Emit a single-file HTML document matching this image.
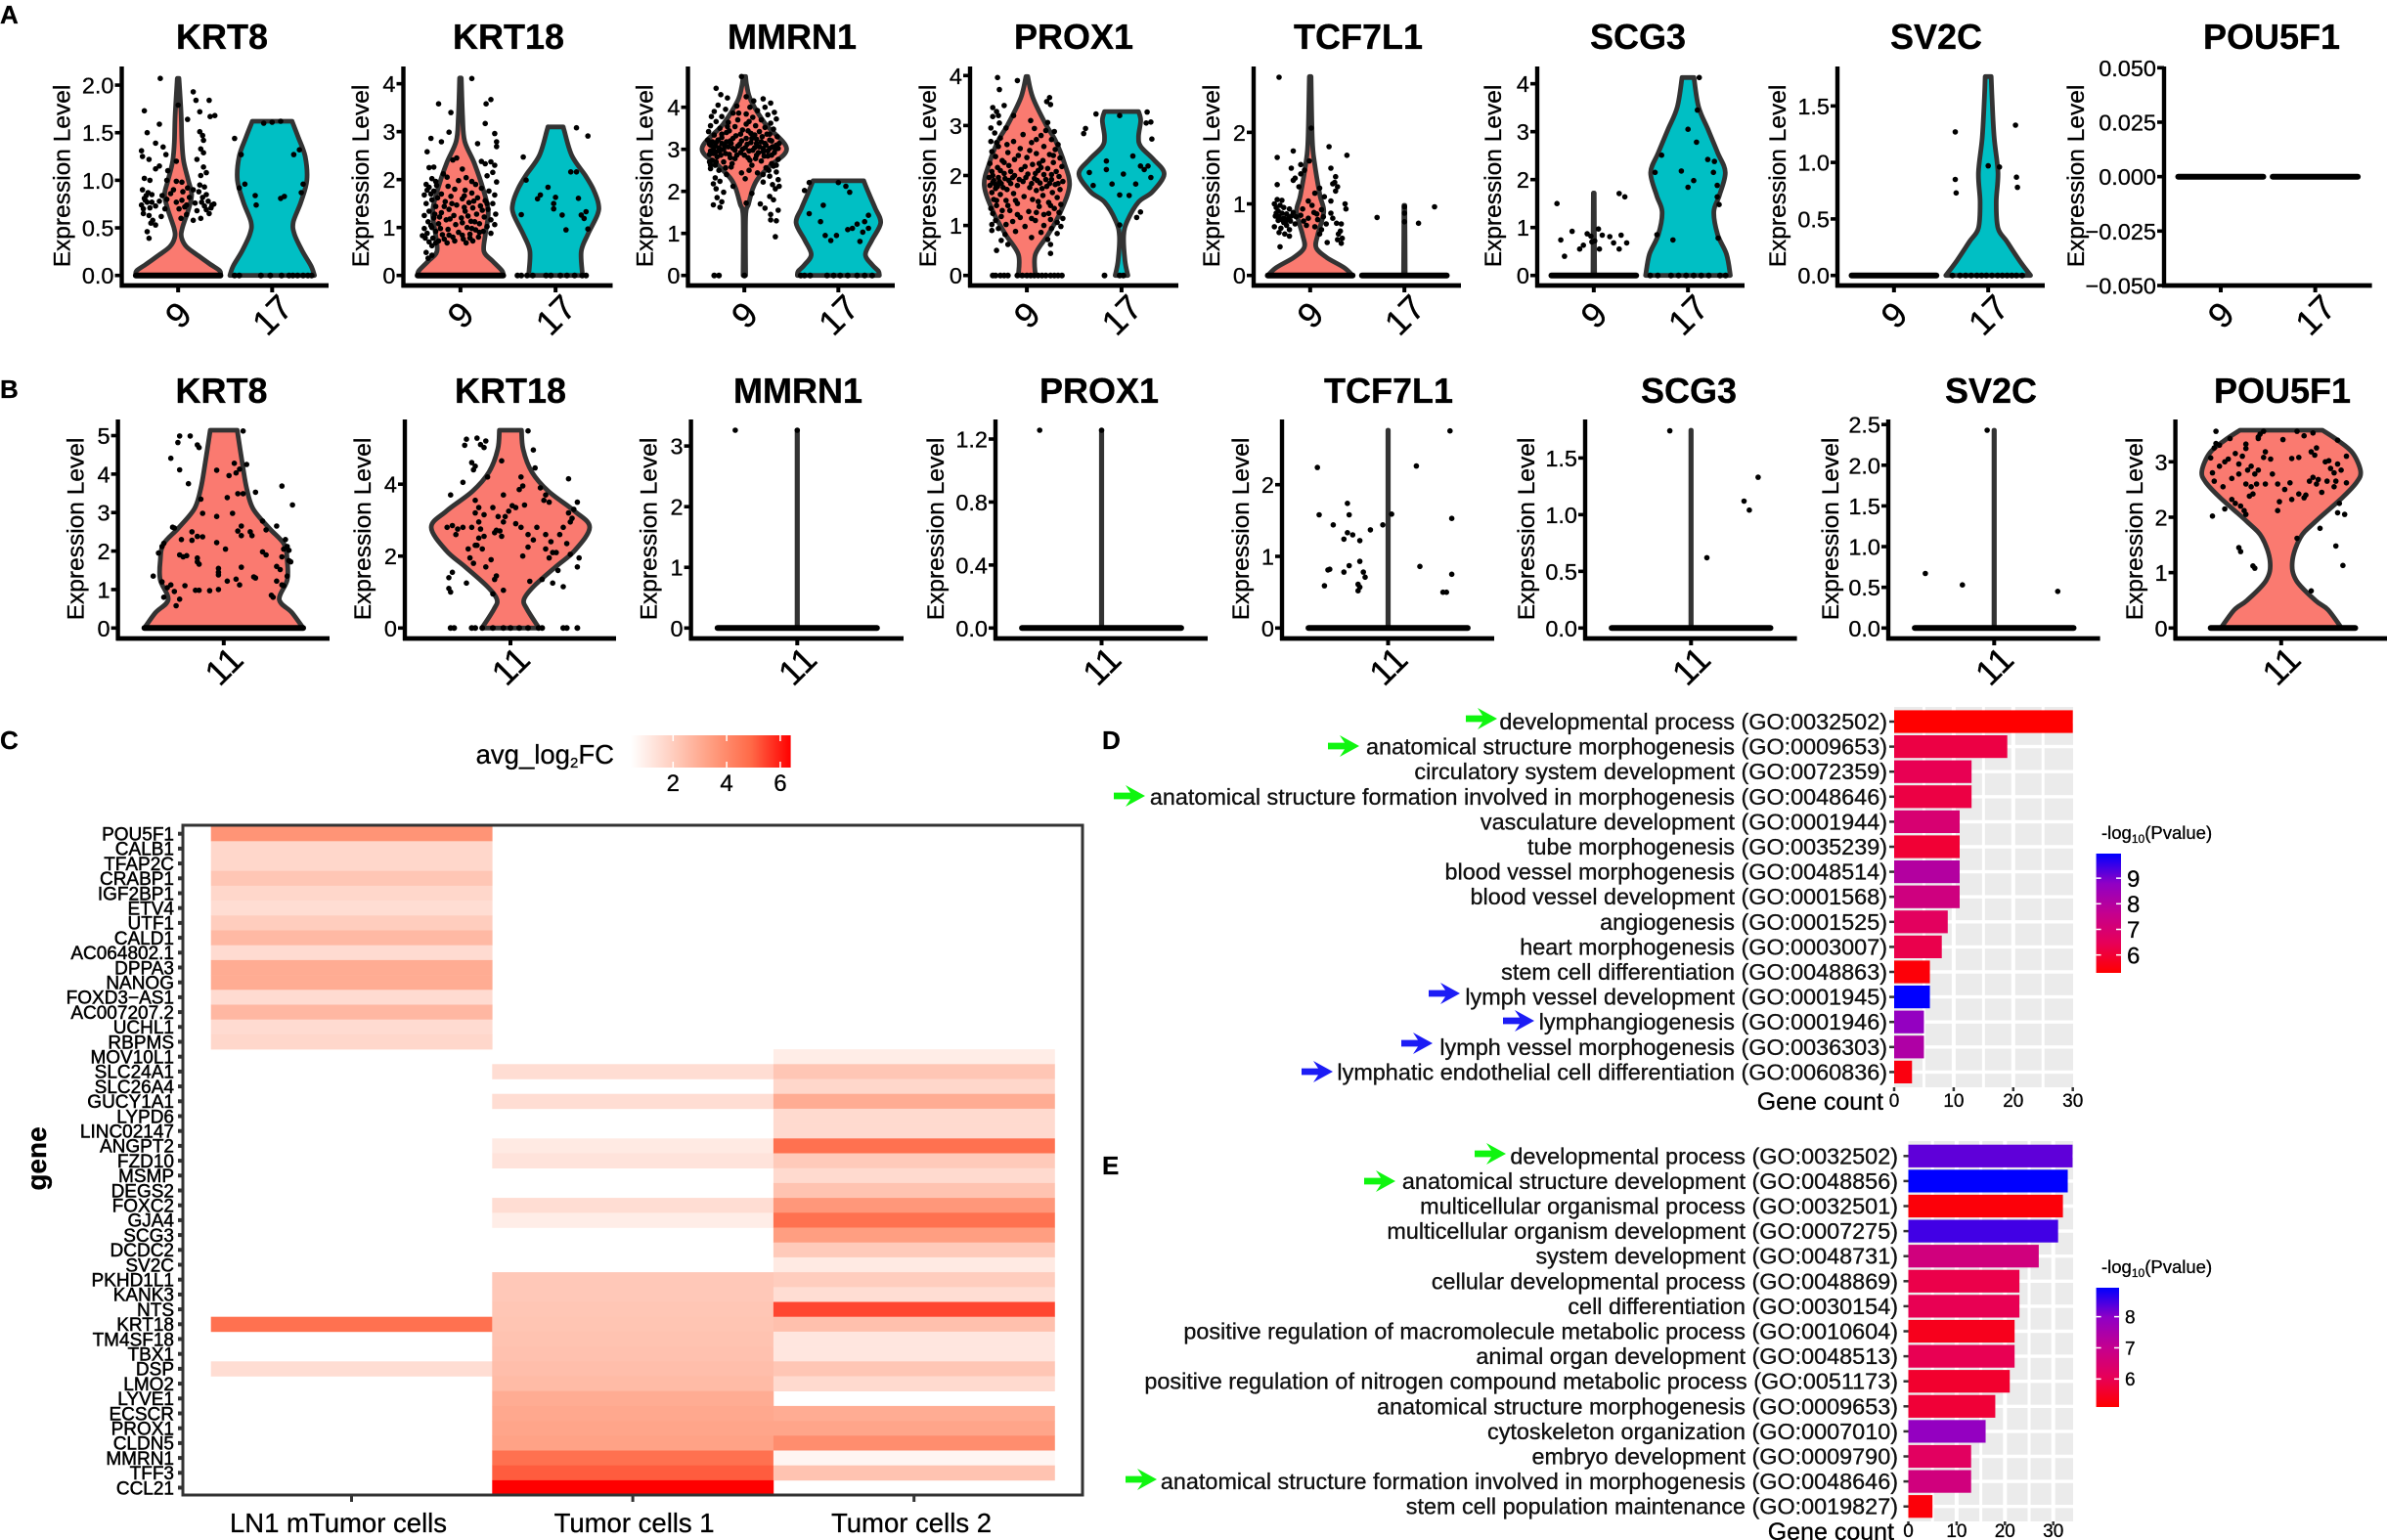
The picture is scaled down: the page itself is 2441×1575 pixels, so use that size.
<!DOCTYPE html>
<html lang="en">
<head>
<meta charset="utf-8">
<title>Violin, heatmap and GO enrichment figure</title>
<style>
html,body{margin:0;padding:0;background:#fff;}
svg{display:block;font-family:"Liberation Sans",Arial,sans-serif;}
svg text{stroke:#000;stroke-width:.3px;}
</style>
</head>
<body>
<svg id="figure" xmlns="http://www.w3.org/2000/svg" width="2441" height="1575" viewBox="0 0 2441 1575">
  <rect x="0" y="0" width="2441" height="1575" fill="#fff"/>
  <defs>
    <linearGradient id="fcGrad" x1="0" x2="1" y1="0" y2="0">
      <stop offset="0" stop-color="#ffffff"/><stop offset=".25" stop-color="#ffd0c2"/><stop offset=".5" stop-color="#ff9e81"/><stop offset=".75" stop-color="#ff6a48"/><stop offset="1" stop-color="#ff0000"/>
    </linearGradient>
    <linearGradient id="pGrad" x1="0" x2="0" y1="1" y2="0">
      <stop offset="0" stop-color="#ff0000"/><stop offset=".25" stop-color="#e70058"/><stop offset=".5" stop-color="#c4008f"/><stop offset=".75" stop-color="#9000c5"/><stop offset="1" stop-color="#0000ff"/>
    </linearGradient>
  </defs>
  <text x="0" y="24" font-size="26" font-weight="bold">A</text>
  <text x="0" y="407" font-size="26" font-weight="bold">B</text>
  <text x="0" y="766" font-size="26" font-weight="bold">C</text>
  <text x="1127" y="766" font-size="26" font-weight="bold">D</text>
  <text x="1127" y="1201" font-size="26" font-weight="bold">E</text>
  <g id="panelA"></g>
  <g id="panelB"></g>
  <g id="panelC"></g>
  <g id="panelD"></g>
  <g id="panelE"></g>
</svg>
<script>
/* ---------- shared categories ---------- */
const catsA = ['9','17'];
const catsB = ['11'];
const denseZeros = [-.45,-.42,-.39,-.36,-.33,-.3,-.27,-.24,-.21,-.18,-.15,-.12,-.09,-.06,-.03,0,.03,.06,.09,.12,.15,.18,.21,.24,.27,.3,.33,.36,.39,.42,.45];

/* ---------- panel A: KRT8 ---------- */
const A_KRT8_ticks = [0,.5,1,1.5,2];
const A_KRT8_labels = ['0.0','0.5','1.0','1.5','2.0'];
const A_KRT8_domain = [0,2.09];
const A_KRT8_v9 = [[0,1],[.05,.98],[.12,.75],[.2,.5],[.3,.2],[.4,.08],[.5,.1],[.7,.25],[.85,.32],[1,.24],[1.2,.13],[1.4,.09],[1.7,.07],[2.07,.02]];
const A_KRT8_v17 = [[0,1],[.1,.92],[.25,.72],[.43,.53],[.56,.5],[.77,.68],[1,.82],[1.25,.78],[1.45,.62],[1.62,.47]];
const A_KRT8_p9 = [[-.19,2.07],[.16,1.93],[.19,1.84],[.33,1.84],[-.36,1.73],[0,1.79],[.23,1.72],[.34,1.67],[.39,1.68],[.1,1.64],[-.2,1.59],[.23,1.51],[-.33,1.5],[.26,1.47],[-.24,1.39],[.27,1.42],[-.39,1.31],[-.16,1.35],[.24,1.33],[.27,1.29],[-.38,1.25],[-.13,1.27],[-.31,1.22],[.2,1.22],[-.02,1.2],[-.2,1.15],[-.24,1.12],[.27,1.14],[.3,1.08],[-.11,1.1],[-.36,1.02],[.24,1.05],[-.3,1],[.04,.98],[-.02,.99],[-.12,1],[.23,.95],[.28,.93],[.1,.92],[-.38,.9],[-.05,.9],[.05,.88],[-.32,.87],[.22,.88],[.3,.85],[-.28,.85],[-.17,.84],[.12,.82],[.26,.82],[-.36,.81],[-.12,.8],[.04,.79],[.32,.78],[-.33,.77],[-.28,.77],[-.02,.77],[.18,.76],[.38,.75],[-.39,.74],[.09,.74],[-.24,.73],[.28,.73],[-.3,.71],[.35,.71],[.01,.7],[-.14,.7],[.2,.68],[-.37,.65],[.33,.65],[.09,.64],[-.31,.63],[-.18,.62],[.03,.6],[.24,.6],[-.27,.58],[.16,.58],[-.24,.53],[-.29,.55],[-.33,.46],[-.31,.39],[-.35,.79],[-.34,.84],[-.37,.7],[.3,.69],[.25,.77],[-.08,.86],[.07,.72],[-.2,.78],[.16,.9],[.36,.74]];
const A_KRT8_v17p = [];
const A_KRT8_p17 = [[-.4,1.44],[-.09,1.6],[0,1.61],[.09,1.62],[-.33,1.27],[.23,1.27],[.29,1.32],[-.29,.96],[-.35,.92],[.33,.96],[.31,.87],[-.17,.74],[-.18,.84],[.09,.81],[.13,.83]];
const A_KRT8_z17 = [-.4,-.35,-.12,-.02,.1,.18,.22,.27,.33,.38,.42];

/* ---------- panel A: KRT18 ---------- */
const A_KRT18_ticks = [0,1,2,3,4];
const A_KRT18_labels = ['0','1','2','3','4'];
const A_KRT18_domain = [0,4.15];
const A_KRT18_v9 = [[0,1],[.1,.97],[.3,.75],[.5,.55],[.85,.58],[1.33,.65],[1.8,.53],[2.35,.32],[2.8,.1],[3.3,.05],[4.12,.02]];
const A_KRT18_v17 = [[0,.63],[.5,.6],[.85,.75],[1.27,.98],[1.5,1],[1.8,.88],[2.08,.7],[2.5,.38],[3.03,.2],[3.1,.18]];
const A_KRT18_p9 = [[.12,4.11],[.32,3.67],[.27,3.58],[-.23,3.58],[-.1,3.4],[.26,3.17],[-.12,2.99],[.36,2.96],[-.31,2.86],[-.2,2.79],[.38,2.79],[.18,2.75],[.38,2.69],[-.35,2.58],[-.04,2.45],[-.08,2.41],[.22,2.38],[.32,2.37],[.26,2.33],[.36,2.3],[-.33,2.25],[-.28,2.26],[.02,2.22],[.34,2.15],[-.18,2.12],[.28,2.08],[-.3,2.02],[.06,2.04],[-.02,1.98],[.38,1.95],[-.36,1.9],[-.25,1.88],[.16,1.9],[-.13,1.86],[-.33,1.84],[.22,1.82],[-.06,1.8],[.05,1.78],[-.28,1.76],[.3,1.76],[.12,1.72],[-.2,1.7],[-.38,1.68],[.36,1.68],[-.1,1.65],[.18,1.62],[.02,1.6],[-.3,1.58],[.26,1.56],[-.16,1.54],[.09,1.52],[-.36,1.5],[.34,1.5],[-.04,1.47],[.21,1.45],[-.26,1.44],[.13,1.41],[-.12,1.38],[.29,1.38],[-.33,1.34],[.05,1.34],[-.2,1.31],[.37,1.28],[.17,1.28],[-.38,1.25],[-.07,1.25],[.25,1.22],[-.28,1.2],[.01,1.2],[.32,1.16],[-.15,1.16],[.11,1.13],[-.34,1.12],[-.23,1.08],[.2,1.08],[-.05,1.06],[.36,1.06],[.28,1.02],[-.3,1],[.07,1],[-.38,.98],[-.13,.96],[.16,.95],[.24,.92],[-.26,.92],[-.02,.9],[-.35,.88],[.32,.88],[.1,.86],[-.19,.85],[-.4,.83],[-.08,.8],[.19,.8],[-.29,.78],[.03,.76],[-.23,.72],[.13,.72],[-.33,.7],[-.14,.68],[.06,.68],[-.3,.62],[-.36,.48],[-.3,.42],[-.34,.36],[-.31,1.7],[-.24,1.62],[-.17,1.44],[-.09,1.5],[.14,1.55],[.04,1.42],[.23,1.36],[-.27,1.28],[-.11,1.18],[.08,1.24],[.15,1.12],[-.31,1.04],[-.21,.98],[.02,1.1],[.12,.98],[.2,.9],[-.17,.76],[-.06,.72],[.1,.78],[-.37,.78],[-.26,.68],[-.12,.84],[.02,.84],[-.22,1.22],[.28,1.5],[-.35,1.78],[-.26,1.96],[.12,1.96],[-.14,2.05],[.04,1.66]];
const A_KRT18_p17 = [[.22,3.08],[.34,2.91],[-.34,2.47],[.16,2.16],[.22,2.16],[-.31,1.99],[-.08,1.84],[-.16,1.68],[0,1.63],[-.19,1.6],[.24,1.61],[-.02,1.5],[-.36,1.27],[.32,1.33],[.27,1.26],[-.02,1.39],[.07,1.26],[.3,1.19],[.11,.95],[.34,.97]];
const A_KRT18_z17 = [-.4,-.36,-.3,-.24,-.1,-.05,.05,.12,.2,.28,.32];

/* ---------- panel A: MMRN1 ---------- */
const A_MMRN1_ticks = [0,1,2,3,4];
const A_MMRN1_labels = ['0','1','2','3','4'];
const A_MMRN1_domain = [0,4.73];
const A_MMRN1_v9 = [[0,.03],[1.4,.03],[1.7,.1],[2.06,.2],[2.3,.32],[2.6,.6],[3.02,1],[3.6,.5],[4.15,.16],[4.5,.06],[4.73,.03]];
const A_MMRN1_v17 = [[0,.97],[.1,.95],[.25,.8],[.5,.64],[.85,.8],[1.25,1],[1.6,.87],[1.95,.72],[2.25,.6]];
const A_MMRN1_p9 = [[-.03,4.73],[-.3,4.45],[-.25,4.3],[.02,4.25],[-.18,4.22],[.2,4.2],[.1,4.15],[.28,4.1],[-.28,4.05],[-.08,4.03],[.06,4],[.22,4],[-.2,3.95],[-.32,3.9],[.14,3.92],[.32,3.88],[-.12,3.86],[.02,3.84],[.25,3.82],[-.35,3.78],[-.24,3.78],[.09,3.76],[.34,3.72],[-.07,3.7],[.18,3.7],[-.3,3.66],[-.17,3.64],[.28,3.62],[.02,3.6],[-.36,3.56],[.12,3.56],[-.1,3.54],[.22,3.52],[-.26,3.5],[.31,3.48],[-.02,3.46],[-.38,3.42],[.16,3.42],[-.19,3.4],[.07,3.38],[.27,3.36],[-.32,3.34],[-.09,3.32],[.35,3.3],[.19,3.3],[-.24,3.28],[.02,3.26],[-.39,3.22],[.13,3.24],[-.15,3.2],[.29,3.2],[-.3,3.16],[.07,3.16],[.22,3.14],[-.05,3.12],[-.36,3.1],[.34,3.1],[-.21,3.08],[.16,3.06],[.01,3.04],[-.12,3.02],[.27,3.02],[-.33,3],[.09,2.98],[-.26,2.96],[.2,2.94],[-.04,2.92],[.32,2.92],[-.37,2.88],[-.16,2.88],[.13,2.86],[.25,2.84],[-.29,2.82],[.04,2.8],[-.1,2.78],[.36,2.76],[-.34,2.74],[.18,2.72],[-.22,2.7],[.29,2.66],[-.31,2.62],[.08,2.62],[-.14,2.58],[.23,2.56],[-.36,2.54],[-.27,2.5],[.34,2.46],[.14,2.44],[-.19,2.4],[.27,2.36],[-.31,2.32],[.01,2.3],[.36,2.28],[-.26,2.24],[.2,2.22],[-.33,2.18],[.3,2.16],[-.12,2.12],[.37,2.12],[-.3,2.06],[.33,2.06],[-.22,1.98],[.08,1.95],[.27,1.88],[-.29,1.85],[.31,1.8],[-.24,1.75],[.02,1.72],[-.33,1.68],[.17,1.7],[-.26,1.62],[.36,1.55],[.28,1.45],[.22,1.6],[.34,1.3],[.28,1.32],[.33,.92],
[-.37,3.12],[-.34,3.18],[-.31,3.08],[-.28,3.22],[-.27,3.04],[-.24,3.14],[-.22,3],[-.19,3.18],[-.17,3.06],[-.14,3.14],[-.12,3.26],[-.1,2.98],[-.07,3.08],[-.03,3.2],[-.02,3],[.03,3.12],[.05,2.96],[.08,3.26],[.11,3.04],[.13,3.14],[.15,2.92],[.18,3.18],[.2,3.02],[.23,3.1],[.25,2.96],[.27,3.22],[.3,3.06],[.33,3],[.36,3.02],[.37,3.14],[-.36,2.96],[-.33,2.9],[-.3,2.94],[-.25,2.86],[-.2,2.9],[-.15,2.8],[-.08,2.86],[0,2.86],[.06,2.74],[.12,2.78],[.21,2.84],[.29,2.86],[-.24,3.36],[-.16,3.44],[-.04,3.36],[.04,3.44],[.11,3.34],[.24,3.36],[-.37,2.7],[-.3,2.7],[-.36,2.62],[-.13,2.66],[.31,2.6],[.34,2.62],[-.2,2.56],[.05,2.5],[.26,2.5],[.2,2.4],[-.03,2.44],[-.18,3.54],[.05,3.66],[-.06,3.86]];
const A_MMRN1_p17 = [[-.31,2.21],[-.36,2.02],[0,2.21],[.08,2.12],[.12,1.98],[-.16,1.67],[-.31,1.47],[.32,1.43],[-.19,1.28],[.28,1.28],[.2,1.22],[.15,1.12],[.32,1.12],[.1,1.09],[.26,1.03],[-.14,.95],[-.02,.95],[-.08,.83],[.23,.81]];
const A_MMRN1_z9 = [-.32,-.27,0];
const A_MMRN1_z17 = [-.4,-.36,-.3,-.12,-.05,.02,.1,.2,.28,.36];

/* ---------- panel A: PROX1 ---------- */
const A_PROX1_ticks = [0,1,2,3,4];
const A_PROX1_labels = ['0','1','2','3','4'];
const A_PROX1_domain = [0,3.98];
const A_PROX1_v9 = [[0,.2],[.42,.2],[.82,.5],[1.27,.79],[1.8,1],[2.25,.88],[2.7,.67],[3.03,.44],[3.56,.14],[3.98,.02]];
const A_PROX1_v17 = [[0,.15],[.3,.08],[.8,.05],[1.1,.14],[1.47,.4],[1.67,.72],[2.03,1],[2.32,.75],[2.58,.45],[2.78,.4],[3.1,.45],[3.28,.4]];
const A_PROX1_p9 = [[-.31,3.96],[-.1,3.9],[-.29,3.72],[.24,3.56],[.21,3.48],[.25,3.42],[-.36,3.36],[-.32,3.28],[-.14,3.2],[-.36,3.18],[.04,3.1],[-.29,3.05],[.22,3.06],[-.38,2.95],[-.22,2.95],[.08,2.94],[.29,2.88],[-.34,2.85],[-.04,2.82],[.15,2.8],[-.28,2.75],[.26,2.72],[-.38,2.68],[-.14,2.68],[.05,2.66],[.33,2.62],[-.3,2.58],[.18,2.58],[-.07,2.54],[.3,2.52],[-.37,2.48],[-.2,2.46],[.1,2.44],[.24,2.42],[-.33,2.38],[0,2.36],[.35,2.35],[-.13,2.32],[-.26,2.3],[.17,2.3],[.28,2.26],[-.39,2.24],[.06,2.22],[-.19,2.2],[.37,2.18],[-.31,2.16],[.22,2.14],[-.06,2.12],[.12,2.1],[-.37,2.08],[.31,2.08],[-.24,2.04],[.01,2.03],[.18,2.02],[-.13,2],[.34,1.98],[-.4,1.96],[-.3,1.96],[.08,1.94],[.26,1.92],[-.19,1.9],[-.04,1.88],[.38,1.88],[-.36,1.86],[.14,1.85],[-.27,1.84],[.3,1.82],[-.39,1.8],[-.1,1.8],[.21,1.78],[.03,1.76],[-.33,1.74],[-.21,1.72],[.35,1.72],[.1,1.7],[-.37,1.66],[.27,1.66],[-.14,1.64],[-.28,1.62],[.17,1.6],[-.03,1.58],[.32,1.56],[-.35,1.52],[.06,1.52],[-.22,1.5],[.23,1.46],[-.1,1.44],[.36,1.42],[-.32,1.4],[.13,1.38],[-.38,1.34],[.29,1.34],[-.18,1.3],[.02,1.28],[.34,1.26],[-.36,1.24],[.18,1.22],[-.27,1.18],[-.07,1.16],[.38,1.14],[.25,1.12],[-.33,1.1],[.09,1.1],[-.15,1.08],[.32,1.06],[-.37,1.02],[.18,1],[-.02,.98],[.36,.98],[-.3,.94],[.26,.94],[-.37,.9],[-.12,.88],[.15,.86],[.32,.84],[-.23,.82],[.05,.76],[-.27,.7],[.22,.72],[-.2,.62],[.25,.62],[-.32,.5],[.25,.44],
[-.35,1.9],[-.33,1.82],[-.31,1.78],[-.29,1.88],[-.25,1.76],[-.23,1.94],[-.17,1.84],[-.15,1.96],[-.08,1.92],[-.01,1.96],[.05,1.84],[.11,1.9],[.16,1.74],[.2,1.92],[.24,1.84],[.33,1.84],[-.36,2],[-.28,2.1],[-.17,2.08],[-.02,2.18],[.09,2.04],[.15,2.16],[.26,2.02],[-.24,2.26],[-.09,2.4],[.03,2.5],[.13,2.24],[.28,2.4],[-.32,2.66],[-.21,2.62],[.1,2.72],[.2,2.9],[-.3,3.2],[-.24,3.4],[-.2,1.4],[-.32,1.5],[-.12,1.5],[.12,1.48],[.25,1.4],[-.26,1.3],[.1,1.26],[.23,1.24],[-.1,1.22],[.05,1.14],[-.22,1.02]];
const A_PROX1_z9 = [-.36,-.33,-.28,-.24,-.2,-.1,-.05,0,.04,.08,.12,.16,.2,.25,.29,.33,.37];
const A_PROX1_p17 = [[-.38,2.94],[-.4,2.84],[-.27,3.23],[-.02,3.2],[.27,3.27],[.31,3.07],[.26,3.05],[.32,2.73],[-.16,2.29],[.12,2.39],[.2,2.19],[.28,2.19],[.24,2.12],[-.34,2.06],[-.16,2.12],[.02,2.03],[.31,1.96],[-.3,1.8],[-.1,1.83],[.15,1.83],[-.02,1.61],[.08,1.6],[.2,1.27],[.16,1.16],[-.02,1.01]];
const A_PROX1_z17 = [-.18,-.02,.02];

/* ---------- panel A: TCF7L1 ---------- */
const A_TCF7L1_ticks = [0,1,2];
const A_TCF7L1_labels = ['0','1','2'];
const A_TCF7L1_domain = [0,2.78];
const A_TCF7L1_v9 = [[0,1],[.11,.8],[.25,.39],[.39,.14],[.57,.18],[.89,.32],[1.12,.23],[1.58,.1],[1.9,.05],[2.78,.02]];
const A_TCF7L1_v17 = [[0,.02],[.98,.01]];
const A_TCF7L1_p9 = [[-.33,2.77],[.01,2.06],[.2,1.8],[-.18,1.74],[.39,1.68],[-.35,1.65],[-.01,1.6],[-.1,1.55],[.22,1.5],[-.2,1.5],[-.06,1.47],[-.1,1.42],[.27,1.38],[.26,1.3],[-.16,1.36],[-.18,1.33],[.24,1.28],[.29,1.24],[-.35,1.27],[-.12,1.24],[.1,1.22],[.27,1.18],[.05,1.15],[.15,1.1],[-.35,1.06],[-.3,1.05],[.22,1.04],[-.02,1.04],[-.38,1],[-.32,.98],[.37,1],[.02,.98],[-.36,.95],[-.28,.95],[.38,.93],[-.22,.93],[-.08,.93],[.12,.92],[-.34,.9],[-.18,.88],[.04,.88],[-.3,.87],[.22,.87],[-.1,.84],[-.37,.83],[-.2,.83],[.14,.82],[-.28,.8],[.24,.8],[-.02,.8],[-.34,.77],[.08,.78],[-.21,.76],[-.28,.74],[.28,.73],[-.16,.72],[.17,.72],[-.25,.7],[.33,.72],[-.38,.68],[.05,.68],[-.31,.66],[.12,.64],[-.22,.64],[.32,.62],[-.33,.6],[-.27,.58],[.1,.58],[.3,.58],[-.22,.55],[.34,.52],[.29,.5],[.18,.46],[.33,.45],[-.32,.4],[-.36,.87],[-.33,.82],[-.3,.78],[-.25,.86],[-.23,.8],[-.26,.76],[-.15,.82],[-.07,.76],[.07,.86],[-.04,.7]];
const A_TCF7L1_p17 = [[.32,.96],[0,.96],[0,.87],[-.29,.81],[0,.75],[.15,.73]];

/* ---------- panel A: SCG3 ---------- */
const A_SCG3_ticks = [0,1,2,3,4];
const A_SCG3_labels = ['0','1','2','3','4'];
const A_SCG3_domain = [0,4.15];
const A_SCG3_v9 = [[0,.02],[1.72,.01]];
const A_SCG3_v17 = [[0,1],[.44,.91],[.85,.7],[1.33,.61],[1.67,.74],[2.15,.88],[2.56,.7],[3.05,.47],[3.52,.25],[4.13,.14]];
const A_SCG3_p9 = [[.27,1.71],[.33,1.64],[-.39,1.5],[-.23,.92],[.05,.97],[-.07,.87],[-.03,.82],[-.35,.74],[.09,.84],[.17,.81],[.29,.84],[.01,.72],[-.11,.63],[.21,.68],[.35,.68],[-.02,.7],[-.15,.55],[.06,.55],[.27,.55],[-.31,.4]];
const A_SCG3_p17 = [[.12,4.13],[.1,3.45],[0,3.05],[.09,2.78],[-.28,2.51],[.21,2.42],[.28,2.38],[-.35,2.15],[-.07,2.18],[.27,2.15],[.06,1.98],[0,1.84],[.31,1.88],[.31,1.64],[.33,1.48],[-.33,.85],[-.16,.74],[.32,.78]];
const A_SCG3_z17 = [-.4,-.32,-.18,-.1,-.02,.06,.14,.22,.34,.4];

/* ---------- panel A: SV2C ---------- */
const A_SV2C_ticks = [0,.5,1,1.5];
const A_SV2C_labels = ['0.0','0.5','1.0','1.5'];
const A_SV2C_domain = [0,1.76];
const A_SV2C_v9 = [];
const A_SV2C_v17 = [[0,1],[.13,.74],[.3,.44],[.42,.23],[.65,.19],[.91,.23],[1.22,.14],[1.57,.09],[1.76,.07]];
const A_SV2C_p17 = [[.29,1.33],[-.35,1.27],[0,.97],[.12,.96],[.3,.87],[-.35,.85],[.31,.78],[-.34,.73]];
const A_SV2C_z17 = [-.38,-.3,-.24,-.18,-.12,-.07,-.02,.04,.1,.15,.2,.25,.3,.36];

/* ---------- panel A: POU5F1 ---------- */
const A_POU5F1_ticks = [-.05,-.025,0,.025,.05];
const A_POU5F1_labels = ['\u22120.050','\u22120.025','0.000','0.025','0.050'];
const A_POU5F1_domain = [-.05,.05];

/* ---------- panel B ---------- */
const B_KRT8_ticks = [0,1,2,3,4,5];
const B_KRT8_labels = ['0','1','2','3','4','5'];
const B_KRT8_domain = [0,5.14];
const B_KRT8_v = [[0,1],[.4,.86],[.74,.7],[1.25,.8],[1.75,.8],[2.18,.76],[2.6,.57],[3.1,.37],[3.62,.29],[4.2,.24],[5.14,.17]];
const B_KRT8_p = [[.11,5.12],[-.25,4.99],[-.19,4.99],[-.26,4.82],[-.15,4.76],[-.14,4.69],[-.3,4.41],[.06,4.28],[.13,4.25],[-.25,4.11],[-.04,4.1],[.09,4.13],[.07,4.03],[.03,3.96],[-.2,3.75],[.33,3.69],[.18,3.53],[.08,3.49],[.11,3.49],[.02,3.39],[-.13,3.35],[.39,3.2],[-.12,2.98],[.05,2.98],[-.04,2.9],[.22,2.78],[-.28,2.6],[.3,2.65],[-.29,2.62],[.1,2.65],[.24,2.55],[.08,2.52],[.15,2.5],[-.18,2.5],[-.15,2.38],[-.12,2.37],[.1,2.4],[.16,2.4],[-.24,2.3],[.35,2.3],[-.18,2.28],[-.04,2.22],[-.34,2.2],[-.35,2.12],[.36,2.12],[.01,2.05],[.34,2.05],[-.37,1.95],[.37,2.02],[.22,1.98],[.24,1.9],[-.25,1.9],[-.23,1.85],[-.21,1.88],[-.15,1.82],[.33,1.85],[.37,1.75],[.38,1.72],[-.15,1.72],[-.14,1.66],[.3,1.6],[.1,1.58],[.32,1.52],[-.03,1.55],[-.03,1.45],[-.03,1.38],[.36,1.35],[-.4,1.35],[-.35,1.2],[.17,1.33],[.18,1.3],[.07,1.27],[.02,1.22],[.3,1.22],[.33,1.12],[.34,1.1],[-.32,1.05],[-.3,1.12],[-.28,.95],[-.22,1.1],[-.16,.98],[-.14,.98],[-.08,.97],[-.03,1.0],[.09,1.12],[.27,.85],[.28,.8],[-.25,.75],[-.34,.8],[-.27,.58]];
const B_KRT18_ticks = [0,2,4];
const B_KRT18_labels = ['0','2','4'];
const B_KRT18_domain = [0,5.5];
const B_KRT18_v = [[0,.36],[.52,.21],[.79,.17],[1.15,.29],[1.7,.57],[2.15,.81],[2.8,1],[3.25,.81],[3.8,.48],[4.34,.27],[4.97,.16],[5.5,.14]];
const B_KRT18_p = [[.1,5.48],[-.25,5.25],[-.19,5.28],[-.14,5.2],[-.26,5.08],[-.17,5.1],[-.15,5.02],[.13,4.95],[-.22,4.6],[-.21,4.4],[-.2,4.5],[-.05,4.65],[.14,4.45],[-.13,4.2],[.06,4.2],[.33,4.15],[-.27,4.05],[.07,3.95],[.17,3.9],[.05,3.85],[-.04,3.7],[.2,3.7],[.19,3.55],[-.34,3.7],[.22,3.5],[.38,3.5],[-.2,3.55],[-.18,3.35],[-.1,3.35],[.01,3.4],[.03,3.35],[.08,3.42],[-.2,3.2],[-.15,3.15],[-.07,3.1],[-.01,3.25],[-.03,3.1],[.33,3.2],[.36,3.3],[.35,3.05],[.34,2.95],[-.18,2.95],[-.17,2.75],[-.04,2.95],[-.08,2.72],[-.18,2.5],[-.22,2.8],[-.27,2.8],[-.3,2.75],[-.33,2.85],[-.36,2.8],[-.31,2.6],[.03,2.9],[.06,2.8],[.1,2.6],[.13,2.45],[.15,2.8],[.2,2.6],[.28,2.6],[.3,2.8],[-.15,2.55],[-.09,2.65],[-.06,2.7],[-.05,2.55],[-.2,2.3],[-.16,2.2],[-.19,2.3],[-.24,2.2],[.2,2.2],[.23,2.4],[.26,2.1],[.32,2.35],[.1,2.25],[.07,2.0],[.34,2.05],[.39,1.95],[.38,1.7],[.22,1.95],[.24,2.1],[-.11,1.9],[-.23,1.95],[-.21,1.8],[-.14,1.7],[.27,1.6],[-.08,1.45],[-.09,1.35],[-.35,1.4],[-.33,1.55],[-.25,1.25],[-.35,1.1],[.11,1.3],[.18,1.35],[.24,1.25],[.3,1.15],[-.1,.95],[-.04,1.05],[-.34,1.0]];
const B_KRT18_z = [-.34,-.32,-.22,-.2,-.16,-.1,-.04,0,.05,.1,.16,.18,.3,.32,.38];
const B_MMRN1_ticks = [0,1,2,3];
const B_MMRN1_labels = ['0','1','2','3'];
const B_MMRN1_domain = [0,3.26];
const B_MMRN1_v = [[0,.003],[3.26,.003]];
const B_MMRN1_p = [[-.35,3.26],[0,3.26]];
const B_PROX1_ticks = [0,.4,.8,1.2];
const B_PROX1_labels = ['0.0','0.4','0.8','1.2'];
const B_PROX1_domain = [0,1.256];
const B_PROX1_v = [[0,.003],[1.256,.003]];
const B_PROX1_p = [[-.35,1.256],[0,1.256]];
const B_TCF7L1_ticks = [0,1,2];
const B_TCF7L1_labels = ['0','1','2'];
const B_TCF7L1_domain = [0,2.76];
const B_TCF7L1_v = [[0,.003],[2.76,.003]];
const B_TCF7L1_p = [[.35,2.75],[-.4,2.24],[.16,2.26],[-.23,1.74],[-.39,1.58],[-.22,1.58],[.02,1.59],[.36,1.53],[-.31,1.44],[-.03,1.44],[-.1,1.37],[-.23,1.33],[-.2,1.3],[-.25,1.24],[-.16,1.22],[-.16,.93],[-.22,.87],[.18,.86],[-.34,.81],[-.33,.82],[-.14,.78],[-.25,.78],[.36,.75],[-.13,.71],[-.36,.59],[-.17,.61],[-.16,.57],[-.17,.52],[.31,.5],[.33,.5]];
const B_SCG3_ticks = [0,.5,1,1.5];
const B_SCG3_labels = ['0.0','0.5','1.0','1.5'];
const B_SCG3_domain = [0,1.745];
const B_SCG3_v = [[0,.003],[1.745,.003]];
const B_SCG3_p = [[-.12,1.74],[.38,1.33],[.3,1.12],[.33,1.04],[.09,.62]];
const B_SV2C_ticks = [0,.5,1,1.5,2,2.5];
const B_SV2C_labels = ['0.0','0.5','1.0','1.5','2.0','2.5'];
const B_SV2C_domain = [0,2.43];
const B_SV2C_v = [[0,.003],[2.43,.003]];
const B_SV2C_p = [[-.04,2.43],[-.39,.67],[-.18,.53],[.36,.45]];
const B_POU5F1_ticks = [0,1,2,3];
const B_POU5F1_labels = ['0','1','2','3'];
const B_POU5F1_domain = [0,3.57];
const B_POU5F1_v = [[0,.76],[.33,.59],[.5,.43],[.86,.19],[1.2,.14],[1.63,.24],[1.92,.43],[2.34,.76],[2.63,.95],[2.83,1],[3.16,.9],[3.39,.71],[3.57,.52]];
const B_POU5F1_p = [[-.37,3.55],[-.1,3.55],[.09,3.55],[.18,3.52],[-.12,3.5],[-.13,3.45],[.13,3.47],[-.13,3.42],[-.29,3.42],[.01,3.4],[.32,3.39],[-.37,3.33],[-.35,3.3],[-.2,3.32],[-.38,3.25],[-.2,3.24],[.2,3.25],[-.09,3.18],[-.26,3.15],[.17,3.18],[.19,3.12],[-.4,3.07],[.37,3.1],[-.3,3.05],[-.22,3.1],[-.1,3.08],[.1,3.08],[-.06,3.05],[.06,3.06],[.25,3.0],[.27,3.02],[.32,2.96],[-.32,3.0],[-.24,2.96],[-.35,2.92],[-.17,2.92],[-.13,2.85],[-.19,2.85],[.34,2.85],[.28,2.88],[-.39,2.8],[-.15,2.78],[-.24,2.78],[-.05,2.78],[-.28,2.7],[.3,2.8],[.18,2.72],[.21,2.68],[.16,2.65],[.2,2.6],[.26,2.65],[.31,2.65],[-.38,2.65],[-.14,2.6],[-.2,2.6],[-.17,2.55],[.05,2.62],[.37,2.62],[-.02,2.6],[-.09,2.6],[.3,2.55],[-.33,2.55],[-.16,2.42],[-.18,2.38],[.02,2.5],[.1,2.42],[.14,2.4],[.23,2.45],[.13,2.35],[.06,2.32],[-.01,2.28],[-.28,2.32],[-.26,2.25],[-.23,2.2],[-.21,2.12],[-.32,2.15],[-.2,2.05],[-.39,2.02],[.32,2.08],[.36,2.05],[.33,2.25],[-.02,2.12],[.22,1.8],[.09,1.62],[.31,1.48],[-.24,1.45],[-.23,1.38],[.35,1.13],[-.16,1.12],[-.15,1.08],[.17,.67]];
const B_POU5F1_z = [-.4,-.36,-.33,-.3,-.27,-.24,-.21,-.18,-.15,-.12,-.09,-.06,-.03,0,.03,.06,.09,.12,.15,.18,.21,.24,.27,.3,.33,.36,.38,.42];

/* ---------- panel C: heatmap ---------- */
const heatGenes = ['POU5F1','CALB1','TFAP2C','CRABP1','IGF2BP1','ETV4','UTF1','CALD1','AC064802.1','DPPA3','NANOG','FOXD3\u2212AS1','AC007207.2','UCHL1','RBPMS','MOV10L1','SLC24A1','SLC26A4','GUCY1A1','LYPD6','LINC02147','ANGPT2','FZD10','MSMP','DEGS2','FOXC2','GJA4','SCG3','DCDC2','SV2C','PKHD1L1','KANK3','NTS','KRT18','TM4SF18','TBX1','DSP','LMO2','LYVE1','ECSCR','PROX1','CLDN5','MMRN1','TFF3','CCL21'];
const heatColumns = ['LN1 mTumor cells','Tumor cells 1','Tumor cells 2'];
const heatLN1 = [3.7,1.7,1.7,2.2,1.7,1.5,2,2.6,1.55,3,3,1.55,2.65,1.55,1.7,null,null,null,null,null,null,null,null,null,null,null,null,null,null,null,null,null,null,4.7,null,null,1.5,null,null,null,null,null,null,null,null];
const heatTumor1 = [null,null,null,null,null,null,null,null,null,null,null,null,null,null,null,null,1.5,null,1.5,null,null,1.1,1.3,null,null,1.5,1,null,null,null,2.15,2.15,2.2,2.25,2.3,2.35,2.45,2.55,3,3.1,3.2,3.3,4.7,5.1,6.39];
const heatTumor2 = [null,null,null,null,null,null,null,null,null,null,null,null,null,null,null,1,2.2,1.7,3,1.6,1.6,4.7,2.1,1.6,2.3,3.6,4.7,3.4,2.1,1.1,2,1.5,5.4,2.4,1.2,1.2,2.2,1.6,null,3,3.2,3.9,.75,2.3,null];
const heatLegendTicks = [2,4,6];
const heatLegendRange = [.42,6.39];

/* ---------- panel D: GO bars ---------- */
const goD_terms = ['developmental process (GO:0032502)','anatomical structure morphogenesis (GO:0009653)','circulatory system development (GO:0072359)','anatomical structure formation involved in morphogenesis (GO:0048646)','vasculature development (GO:0001944)','tube morphogenesis (GO:0035239)','blood vessel morphogenesis (GO:0048514)','blood vessel development (GO:0001568)','angiogenesis (GO:0001525)','heart morphogenesis (GO:0003007)','stem cell differentiation (GO:0048863)','lymph vessel development (GO:0001945)','lymphangiogenesis (GO:0001946)','lymph vessel morphogenesis (GO:0036303)','lymphatic endothelial cell differentiation (GO:0060836)'];
const goD_counts = [30,19,13,13,11,11,11,11,9,8,6,6,5,5,3];
const goD_pvals = [5.3,6.2,6.4,6.2,7,6,8,7.3,6.6,6.3,5.4,9.96,8.7,8.1,5.5];
const goD_ticks = [0,10,20,30];
const goD_legendTicks = [6,7,8,9];
const goD_legendRange = [5.3,9.96];

/* ---------- panel E: GO bars ---------- */
const goE_terms = ['developmental process (GO:0032502)','anatomical structure development (GO:0048856)','multicellular organismal process (GO:0032501)','multicellular organism development (GO:0007275)','system development (GO:0048731)','cellular developmental process (GO:0048869)','cell differentiation (GO:0030154)','positive regulation of macromolecule metabolic process (GO:0010604)','animal organ development (GO:0048513)','positive regulation of nitrogen compound metabolic process (GO:0051173)','anatomical structure morphogenesis (GO:0009653)','cytoskeleton organization (GO:0007010)','embryo development (GO:0009790)','anatomical structure formation involved in morphogenesis (GO:0048646)','stem cell population maintenance (GO:0019827)'];
const goE_counts = [34,33,32,31,27,23,23,22,22,21,18,16,13,13,5];
const goE_pvals = [8.3,8.93,5.2,8.5,6.7,5.9,6,5.4,6,5.6,5.7,7.9,6.2,6.7,5.2];
const goE_ticks = [0,10,20,30];
const goE_legendTicks = [6,7,8];
const goE_legendRange = [5.1,8.93];

/* ---------- helpers ---------- */
const NS = 'http://www.w3.org/2000/svg';
function mk(tag, attrs, parent, txt){
  const e = document.createElementNS(NS, tag);
  for (const k in attrs) e.setAttribute(k, attrs[k]);
  if (txt !== undefined) e.textContent = txt;
  parent.appendChild(e);
  return e;
}
function curve(p){
  let d = '';
  for (let i = 0; i < p.length - 1; i++){
    const a = p[Math.max(i-1,0)], b = p[i], c = p[i+1], e = p[Math.min(i+2,p.length-1)];
    d += 'C' + (b[0]+(c[0]-a[0])/6).toFixed(1) + ' ' + (b[1]+(c[1]-a[1])/6).toFixed(1) + ' ' +
         (c[0]-(e[0]-b[0])/6).toFixed(1) + ' ' + (c[1]-(e[1]-b[1])/6).toFixed(1) + ' ' + c[0].toFixed(1) + ' ' + c[1].toFixed(1);
  }
  return d;
}
function ramp(stops, t){
  t = Math.max(0, Math.min(1, t));
  const s = t * (stops.length - 1), i = Math.min(Math.floor(s), stops.length - 2), f = s - i;
  const c = [0,1,2].map(k => Math.round(stops[i][k] + (stops[i+1][k] - stops[i][k]) * f));
  return 'rgb(' + c.join(',') + ')';
}
const fcStops = [[255,255,255],[255,208,194],[255,158,129],[255,106,72],[255,0,0]];
const pStops = [[255,0,0],[231,0,88],[196,0,143],[144,0,197],[0,0,255]];

/* ---------- violin panels ---------- */
function drawViolin(root, cfg, g0){
  const g = mk('g', {}, root);
  
  
  const w = cfg.right - cfg.left, n = cfg.cats.length, unit = w / (n - 1 + 1.2);
  const xCat = i => cfg.left + (i + .6) * unit;
  const halfW = .45 * unit;
  const dMin = cfg.domain[0], dMax = cfg.domain[1];
  const yBot = dMin < 0 ? g0.bottom : g0.y0, yTop = dMin < 0 ? g0.top + 1.3 : g0.yMax;
  const yS = v => yBot - (v - dMin) / (dMax - dMin) * (yBot - yTop);

  const title = mk('text', {x:cfg.titleX, y:g0.titleY, 'font-size':36, 'font-weight':'bold', 'text-anchor':'middle'}, g, cfg.gene);
  
  

  const yt = mk('text', {transform:'translate(' + cfg.yTitleX + ',' + g0.yTitleY + ') rotate(-90)', 'font-size':24.5, 'text-anchor':'middle'}, g, 'Expression Level');
  
  

  cfg.cats.forEach((cat, i) => {
    const cx = xCat(i), prof = cfg.violins[i];
    if (prof && prof.length){
      const right = prof.map(p => [cx + p[1] * halfW, yS(p[0])]);
      const left = prof.map(p => [cx - p[1] * halfW, yS(p[0])]).reverse();
      const d = 'M' + right[0][0].toFixed(1) + ' ' + right[0][1].toFixed(1) + curve(right) +
                'L' + left[0][0].toFixed(1) + ' ' + left[0][1].toFixed(1) + curve(left) + 'Z';
      const v = mk('path', {d:d, fill:cfg.colors[i], stroke:'#333', 'stroke-width':4.8, 'stroke-linejoin':'round'}, g);
      
      
    }
    (cfg.points[i] || []).forEach(p => {
      const c = mk('ellipse', {cx:(cx + p[0] * unit).toFixed(1), cy:yS(p[1]).toFixed(1), rx:2.8, ry:2.8, fill:'#000'}, g);
      
      
    });
    const zs = cfg.zeros[i] || [];
    if (zs.length >= 28){
      const zl = mk('line', {x1:(cx + Math.min(...zs) * unit).toFixed(1), x2:(cx + Math.max(...zs) * unit).toFixed(1), y1:yS(0).toFixed(1), y2:yS(0).toFixed(1), stroke:'#000', 'stroke-width':6, 'stroke-linecap':'round'}, g);
      
      
    } else {
      zs.forEach(j => {
        const c = mk('ellipse', {cx:(cx + j * unit).toFixed(1), cy:yS(0).toFixed(1), rx:3, ry:3, fill:'#000'}, g);
        
        
      });
    }
    const tk = mk('line', {x1:cx, x2:cx, y1:g0.bottom, y2:g0.bottom + 7, stroke:'#000', 'stroke-width':4}, g);
    
    
    const lb = mk('text', {transform:'translate(' + cx + ',' + g0.catY + ') rotate(-45)', 'font-size':36, 'text-anchor':'middle', dy:'.35em'}, g, cat);
    
    
  });

  cfg.ticks.forEach((t, i) => {
    const y = yS(t);
    const tk = mk('line', {x1:cfg.left - 7, x2:cfg.left, y1:y, y2:y, stroke:'#000', 'stroke-width':3.6}, g);
    
    
    const lb = mk('text', {x:cfg.left - 8, y:y + 8.5, 'font-size':23.5, 'text-anchor':'end'}, g, cfg.tickLabels[i]);
    
    
  });

  const ay = mk('line', {x1:cfg.left, x2:cfg.left, y1:g0.top, y2:g0.bottom + 2, stroke:'#000', 'stroke-width':4.4}, g);
  
  
  const ax = mk('line', {x1:cfg.left - 2, x2:cfg.right, y1:g0.bottom, y2:g0.bottom, stroke:'#000', 'stroke-width':4.8}, g);
  
  
}

const RED = '#fa7a70', TEAL = '#00bfc4';
const geomA = {top:68, bottom:292, y0:281.7, yMax:78.3, titleY:50, yTitleY:180, catY:322};
const geomB = {top:429, bottom:653, y0:642.3, yMax:440, titleY:412, yTitleY:541, catY:681};
const layoutA = [
 {gene:'KRT8',left:124.5,right:336,titleX:227,yTitleX:71.6,ticks:A_KRT8_ticks,tickLabels:A_KRT8_labels,domain:A_KRT8_domain,violins:[A_KRT8_v9,A_KRT8_v17],points:[A_KRT8_p9,A_KRT8_p17],zeros:[denseZeros,A_KRT8_z17]},
 {gene:'KRT18',left:412.5,right:626.5,titleX:520,yTitleX:377,ticks:A_KRT18_ticks,tickLabels:A_KRT18_labels,domain:A_KRT18_domain,violins:[A_KRT18_v9,A_KRT18_v17],points:[A_KRT18_p9,A_KRT18_p17],zeros:[denseZeros,A_KRT18_z17]},
 {gene:'MMRN1',left:703.5,right:915,titleX:810,yTitleX:667.7,ticks:A_MMRN1_ticks,tickLabels:A_MMRN1_labels,domain:A_MMRN1_domain,violins:[A_MMRN1_v9,A_MMRN1_v17],points:[A_MMRN1_p9,A_MMRN1_p17],zeros:[A_MMRN1_z9,A_MMRN1_z17]},
 {gene:'PROX1',left:992,right:1205,titleX:1098,yTitleX:957,ticks:A_PROX1_ticks,tickLabels:A_PROX1_labels,domain:A_PROX1_domain,violins:[A_PROX1_v9,A_PROX1_v17],points:[A_PROX1_p9,A_PROX1_p17],zeros:[A_PROX1_z9,A_PROX1_z17]},
 {gene:'TCF7L1',left:1282,right:1494,titleX:1389,yTitleX:1247,ticks:A_TCF7L1_ticks,tickLabels:A_TCF7L1_labels,domain:A_TCF7L1_domain,violins:[A_TCF7L1_v9,A_TCF7L1_v17],points:[A_TCF7L1_p9,A_TCF7L1_p17],zeros:[denseZeros,denseZeros]},
 {gene:'SCG3',left:1572,right:1784,titleX:1675,yTitleX:1535,ticks:A_SCG3_ticks,tickLabels:A_SCG3_labels,domain:A_SCG3_domain,violins:[A_SCG3_v9,A_SCG3_v17],points:[A_SCG3_p9,A_SCG3_p17],zeros:[denseZeros,A_SCG3_z17]},
 {gene:'SV2C',left:1879,right:2091,titleX:1980,yTitleX:1826,ticks:A_SV2C_ticks,tickLabels:A_SV2C_labels,domain:A_SV2C_domain,violins:[A_SV2C_v9,A_SV2C_v17],points:[[],A_SV2C_p17],zeros:[denseZeros,A_SV2C_z17]},
 {gene:'POU5F1',left:2213,right:2425.6,titleX:2323,yTitleX:2131,ticks:A_POU5F1_ticks,tickLabels:A_POU5F1_labels,domain:A_POU5F1_domain,violins:[[],[]],points:[[],[]],zeros:[denseZeros,denseZeros]}
];
const layoutB = [
 {gene:'KRT8',left:120.6,right:337,titleX:226.5,yTitleX:85.6,ticks:B_KRT8_ticks,tickLabels:B_KRT8_labels,domain:B_KRT8_domain,violins:[B_KRT8_v],points:[B_KRT8_p],zeros:[denseZeros]},
 {gene:'KRT18',left:414,right:630,titleX:522,yTitleX:379,ticks:B_KRT18_ticks,tickLabels:B_KRT18_labels,domain:B_KRT18_domain,violins:[B_KRT18_v],points:[B_KRT18_p],zeros:[B_KRT18_z]},
 {gene:'MMRN1',left:706.6,right:924,titleX:816,yTitleX:671.6,ticks:B_MMRN1_ticks,tickLabels:B_MMRN1_labels,domain:B_MMRN1_domain,violins:[B_MMRN1_v],points:[B_MMRN1_p],zeros:[denseZeros]},
 {gene:'PROX1',left:1018,right:1235,titleX:1124,yTitleX:965,ticks:B_PROX1_ticks,tickLabels:B_PROX1_labels,domain:B_PROX1_domain,violins:[B_PROX1_v],points:[B_PROX1_p],zeros:[denseZeros]},
 {gene:'TCF7L1',left:1311,right:1528,titleX:1420,yTitleX:1277,ticks:B_TCF7L1_ticks,tickLabels:B_TCF7L1_labels,domain:B_TCF7L1_domain,violins:[B_TCF7L1_v],points:[B_TCF7L1_p],zeros:[denseZeros]},
 {gene:'SCG3',left:1621,right:1837.6,titleX:1727,yTitleX:1569,ticks:B_SCG3_ticks,tickLabels:B_SCG3_labels,domain:B_SCG3_domain,violins:[B_SCG3_v],points:[B_SCG3_p],zeros:[denseZeros]},
 {gene:'SV2C',left:1931,right:2147.6,titleX:2036,yTitleX:1880,ticks:B_SV2C_ticks,tickLabels:B_SV2C_labels,domain:B_SV2C_domain,violins:[B_SV2C_v],points:[B_SV2C_p],zeros:[denseZeros]},
 {gene:'POU5F1',left:2224.6,right:2441,titleX:2334,yTitleX:2191,ticks:B_POU5F1_ticks,tickLabels:B_POU5F1_labels,domain:B_POU5F1_domain,violins:[B_POU5F1_v],points:[B_POU5F1_p],zeros:[B_POU5F1_z]}
];
layoutA.forEach(c => { c.cats = catsA; c.colors = [RED, TEAL]; drawViolin(document.getElementById('panelA'), c, geomA); });
layoutB.forEach(c => { c.cats = catsB; c.colors = [RED]; drawViolin(document.getElementById('panelB'), c, geomB); });

/* ---------- heatmap ---------- */
(function(){
  const g = document.getElementById('panelC');
  const left = 187, right = 1107, top = 844, bottom = 1529;
  const colX = i => 215.7 + i * 287.6, colW = 287.6;
  const rowY = i => 852.7 + i * 15.2, rowH = 15.2;
  const fill = v => ramp(fcStops, (v - heatLegendRange[0]) / (heatLegendRange[1] - heatLegendRange[0]));
  [heatLN1, heatTumor1, heatTumor2].forEach((vals, c) => {
    vals.forEach((v, r) => {
      if (v === null) return;
      const cell = mk('rect', {x:colX(c), y:rowY(r) - rowH/2, width:colW + .3, height:rowH + .3, fill:fill(v)}, g);
      
      
    });
  });
  const frame = mk('rect', {x:left, y:top, width:right-left, height:bottom-top, fill:'none', stroke:'#333', 'stroke-width':3}, g);
  
  
  heatGenes.forEach((name, r) => {
    const y = rowY(r);
    const tk = mk('line', {x1:left - 5, x2:left, y1:y, y2:y, stroke:'#333', 'stroke-width':4}, g);
    
    
    const t = mk('text', {x:178, y:y + 6.8, 'font-size':19, 'text-anchor':'end', style:'stroke-width:.5px'}, g, name);
    
    
  });
  const labelX = [346, 648.6, 932];
  heatColumns.forEach((name, c) => {
    const tx = colX(c) + colW / 2;
    const tk = mk('line', {x1:tx, x2:tx, y1:bottom, y2:bottom + 7, stroke:'#333', 'stroke-width':3}, g);
    
    
    const t = mk('text', {x:labelX[c], y:1567, 'font-size':27.5, 'text-anchor':'middle'}, g, name);
    
    
  });
  const gt = mk('text', {transform:'translate(47,1185) rotate(-90)', 'font-size':28, 'font-weight':'bold', 'text-anchor':'middle'}, g, 'gene');
  
  

  const lx0 = 645, lx1 = 808.6;
  const lb = mk('rect', {x:lx0, y:752, width:lx1-lx0, height:33, fill:'url(#fcGrad)'}, g);
  
  
  const lt = mk('text', {x:628, y:781, 'font-size':27.5, 'text-anchor':'end'}, g);
  
  
  mk('tspan', {}, lt, 'avg_log');
  mk('tspan', {'font-size':15, dy:4}, lt, '2');
  mk('tspan', {dy:-4}, lt, 'FC');
  heatLegendTicks.forEach(v => {
    const x = lx0 + (v - heatLegendRange[0]) / (heatLegendRange[1] - heatLegendRange[0]) * (lx1 - lx0);
    const a = mk('line', {x1:x, x2:x, y1:752, y2:758, stroke:'#fff', 'stroke-width':1.5}, g);
    
    
    const b = mk('line', {x1:x, x2:x, y1:779, y2:785, stroke:'#fff', 'stroke-width':1.5}, g);
    
    
    const t = mk('text', {x:x, y:809, 'font-size':24, 'text-anchor':'middle'}, g, String(v));
    
    
  });
})();

/* ---------- GO bar panels ---------- */
function drawGo(g, c){
  const xS = v => c.x0 + v * c.pxPerCount;
  const rowY = i => c.y0 + i * 25.6;
  const bg = mk('rect', {x:c.x0, y:c.bgTop, width:c.bgRight - c.x0, height:c.bgBottom - c.bgTop, fill:'#ebebeb'}, g);
  
  
  for (let v = 5; xS(v) < c.bgRight - 1; v += 5){
    const gl = mk('line', {x1:xS(v), x2:xS(v), y1:c.bgTop, y2:c.bgBottom, stroke:'#fff', 'stroke-width':v % 10 ? 3 : 4}, g);
    
    
  }
  c.terms.forEach((term, i) => {
    const y = rowY(i);
    const gl = mk('line', {x1:c.x0, x2:c.bgRight, y1:y, y2:y, stroke:'#fff', 'stroke-width':3.4}, g);
    
    
  });
  c.terms.forEach((term, i) => {
    const y = rowY(i);
    const bar = mk('rect', {x:c.x0, y:y - 11.6, width:xS(c.counts[i]) - c.x0, height:23.2, fill:ramp(pStops, (c.pvals[i] - c.range[0]) / (c.range[1] - c.range[0]))}, g);
    
    
    const tk = mk('line', {x1:c.x0 - 5, x2:c.x0, y1:y, y2:y, stroke:'#333', 'stroke-width':2.5}, g);
    
    
    const t = mk('text', {x:c.labelRight, y:y + 8, 'font-size':23.4, 'text-anchor':'end', fill:'#111'}, g, term);
    
    
  });
  c.ticks.forEach(v => {
    const x = xS(v);
    const tk = mk('line', {x1:x, x2:x, y1:c.bgBottom, y2:c.bgBottom + 4, stroke:'#333', 'stroke-width':2.5}, g);
    
    
    const t = mk('text', {x:x, y:c.tickY, 'font-size':19, 'text-anchor':'middle'}, g, String(v));
    
    
  });
  const gc = mk('text', {x:c.labelRight - 4, y:c.countTitleY, 'font-size':25, 'text-anchor':'end'}, g, 'Gene count');
  
  

  const cb = mk('rect', {x:c.cbX, y:c.cbTop, width:c.cbW, height:c.cbBottom - c.cbTop, fill:'url(#pGrad)'}, g);
  
  
  const lt = mk('text', {x:2149, y:c.cbTitleY, 'font-size':18.5}, g);
  
  
  mk('tspan', {}, lt, '-log');
  mk('tspan', {'font-size':12, dy:4}, lt, '10');
  mk('tspan', {dy:-4}, lt, '(Pvalue)');
  c.legendTicks.forEach(v => {
    const y = c.cbBottom - (v - c.range[0]) / (c.range[1] - c.range[0]) * (c.cbBottom - c.cbTop);
    const a = mk('line', {x1:c.cbX, x2:c.cbX + 5, y1:y, y2:y, stroke:'#fff', 'stroke-width':1.5}, g);
    
    
    const b = mk('line', {x1:c.cbX + c.cbW - 5, x2:c.cbX + c.cbW, y1:y, y2:y, stroke:'#fff', 'stroke-width':1.5}, g);
    
    
    const t = mk('text', {x:c.cbX + c.cbW + 6, y:y + c.legendFont * .36, 'font-size':c.legendFont}, g, String(v));
    
    
  });
  c.arrows.forEach(a => {
    const x = a[0], y = a[1];
    const pts = [[0,0],[-20,11],[-15,3.4],[-32,3.4],[-32,-3.4],[-15,-3.4],[-20,-11]].map(p => (x + p[0]) + ',' + (y + p[1])).join(' ');
    const ar = mk('polygon', {points:pts, fill:a[2]}, g);
    
    
  });
}
const GREEN = '#10f510', BLUE = '#1c1cf5';
drawGo(document.getElementById('panelD'), {
  terms:goD_terms, counts:goD_counts, pvals:goD_pvals, ticks:goD_ticks, legendTicks:goD_legendTicks, range:goD_legendRange,
  x0:1937, pxPerCount:6.09, y0:738, bgTop:723, bgRight:2120, bgBottom:1112, labelRight:1930, tickY:1132, countTitleY:1135,
  cbX:2143.6, cbW:25.4, cbTop:873, cbBottom:995, cbTitleY:858, legendFont:24,
  arrows:[[1531,735,GREEN],[1390,763,GREEN],[1171,814,GREEN],[1493,1016,BLUE],[1569,1044,BLUE],[1465,1067,BLUE],[1363,1096,BLUE]]
});
drawGo(document.getElementById('panelE'), {
  terms:goE_terms, counts:goE_counts, pvals:goE_pvals, ticks:goE_ticks, legendTicks:goE_legendTicks, range:goE_legendRange,
  x0:1951.5, pxPerCount:4.94, y0:1182.3, bgTop:1167, bgRight:2120, bgBottom:1556, labelRight:1941, tickY:1572, countTitleY:1575,
  cbX:2143.6, cbW:23.4, cbTop:1317, cbBottom:1439, cbTitleY:1302, legendFont:19,
  arrows:[[1540,1180,GREEN],[1427,1208,GREEN],[1183,1513,GREEN]]
});
</script>
</body>
</html>
